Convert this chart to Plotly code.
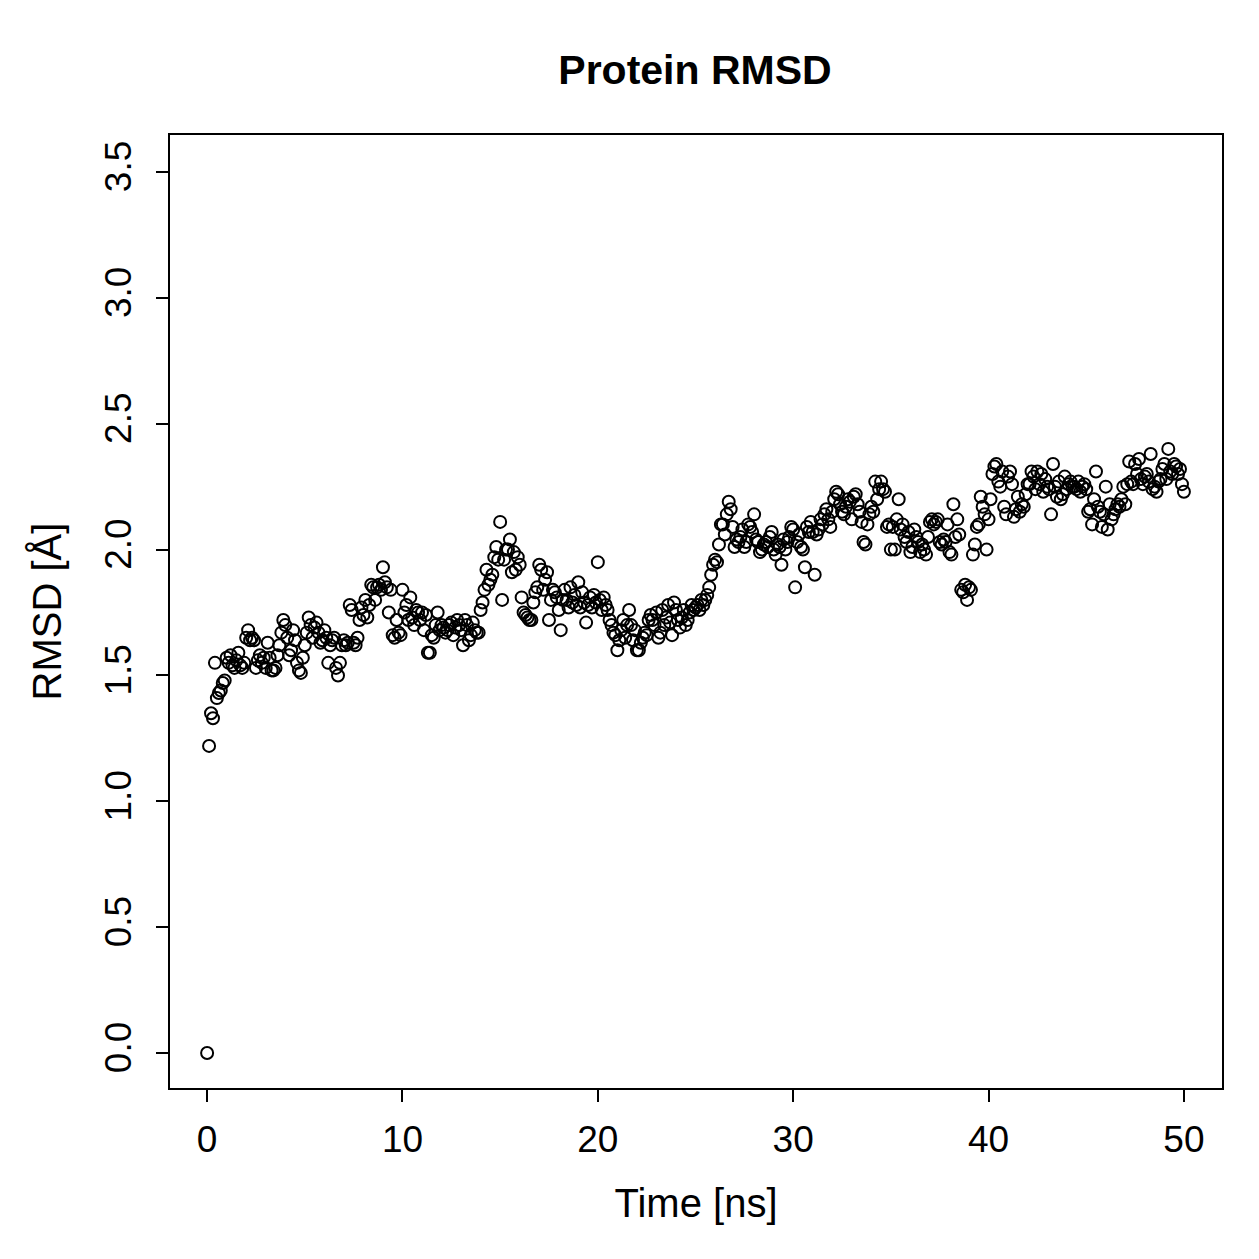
import numpy as np
import plotly.graph_objects as go

# sampling times [ns], 0.1 ns step
time_ns = [round(i * 0.1, 1) for i in range(501)]

rmsd = [
    0.00, 1.22, 1.35, 1.33, 1.55, 1.41, 1.43, 1.44, 1.47, 1.48,
    1.57, 1.55, 1.58, 1.54, 1.53, 1.56, 1.59, 1.54, 1.53, 1.55,
    1.65, 1.68, 1.64, 1.65, 1.64, 1.53, 1.56, 1.58, 1.55, 1.57,
    1.53, 1.63, 1.57, 1.52, 1.52, 1.53, 1.58, 1.62, 1.67, 1.72,
    1.70, 1.65, 1.58, 1.60, 1.68, 1.64, 1.55, 1.52, 1.51, 1.57,
    1.62, 1.67, 1.73, 1.70, 1.65, 1.69, 1.71, 1.67, 1.63, 1.64,
    1.68, 1.65, 1.55, 1.62, 1.64, 1.65, 1.53, 1.50, 1.55, 1.62,
    1.64, 1.62, 1.63, 1.78, 1.76, 1.63, 1.62, 1.65, 1.72, 1.77,
    1.74, 1.80, 1.73, 1.78, 1.86, 1.85, 1.80, 1.85, 1.86, 1.84,
    1.93, 1.87, 1.85, 1.75, 1.84, 1.66, 1.65, 1.72, 1.67, 1.66,
    1.84, 1.75, 1.78, 1.72, 1.81, 1.73, 1.70, 1.76, 1.75, 1.72,
    1.75, 1.68, 1.74, 1.59, 1.59, 1.66, 1.65, 1.70, 1.75, 1.68,
    1.70, 1.69, 1.67, 1.68, 1.70, 1.71, 1.66, 1.69, 1.72, 1.70,
    1.68, 1.62, 1.72, 1.70, 1.64, 1.66, 1.71, 1.68, 1.67, 1.67,
    1.76, 1.79, 1.84, 1.92, 1.86, 1.88, 1.90, 1.97, 2.01, 1.96,
    2.11, 1.80, 1.96, 2.00, 2.00, 2.04, 1.91, 1.99, 1.92, 1.97,
    1.94, 1.81, 1.75, 1.74, 1.73, 1.72, 1.72, 1.79, 1.83, 1.85,
    1.94, 1.92, 1.84, 1.88, 1.91, 1.72, 1.80, 1.84, 1.83, 1.81,
    1.76, 1.68, 1.80, 1.84, 1.80, 1.77, 1.85, 1.79, 1.82, 1.78,
    1.87, 1.77, 1.83, 1.79, 1.71, 1.78, 1.81, 1.77, 1.82, 1.79,
    1.95, 1.80, 1.76, 1.81, 1.78, 1.76, 1.72, 1.70, 1.67, 1.66,
    1.60, 1.64, 1.68, 1.72, 1.65, 1.70, 1.76, 1.70, 1.64, 1.68,
    1.60, 1.60, 1.63, 1.65, 1.67, 1.66, 1.72, 1.74, 1.72, 1.70,
    1.75, 1.65, 1.67, 1.76, 1.70, 1.73, 1.78, 1.71, 1.66, 1.79,
    1.76, 1.72, 1.69, 1.73, 1.76, 1.70, 1.72, 1.75, 1.78, 1.76,
    1.77, 1.78, 1.76, 1.80, 1.78, 1.80, 1.82, 1.85, 1.90, 1.94,
    1.96, 1.95, 2.02, 2.10, 2.10, 2.06, 2.14, 2.19, 2.16, 2.09,
    2.01, 2.04, 2.03, 2.05, 2.08, 2.01, 2.03, 2.10, 2.09, 2.07,
    2.14, 2.04, 2.03, 1.99, 2.00, 2.02, 2.03, 2.01, 2.05, 2.07,
    2.00, 1.98, 2.02, 2.01, 1.94, 2.04, 2.00, 2.03, 2.05, 2.09,
    2.08, 1.85, 2.03, 2.06, 2.01, 2.00, 1.93, 2.09, 2.07, 2.11,
    2.07, 1.90, 2.06, 2.08, 2.12, 2.10, 2.14, 2.16, 2.12, 2.09,
    2.15, 2.20, 2.23, 2.22, 2.18, 2.15, 2.14, 2.17, 2.20, 2.19,
    2.12, 2.21, 2.22, 2.18, 2.15, 2.11, 2.03, 2.02, 2.10, 2.14,
    2.17, 2.15, 2.27, 2.20, 2.24, 2.27, 2.24, 2.23, 2.09, 2.10,
    2.00, 2.09, 2.00, 2.12, 2.20, 2.08, 2.10, 2.05, 2.03, 2.07,
    1.99, 2.01, 2.08, 2.05, 2.03, 1.99, 2.02, 2.00, 1.98, 2.05,
    2.11, 2.12, 2.10, 2.11, 2.12, 2.03, 2.02, 2.04, 2.03, 2.10,
    1.99, 1.98, 2.18, 2.05, 2.12, 2.06, 1.84, 1.83, 1.86, 1.80,
    1.85, 1.84, 1.98, 2.02, 2.09, 2.10, 2.21, 2.17, 2.14, 2.00,
    2.12, 2.20, 2.30, 2.33, 2.34, 2.27, 2.25, 2.31, 2.17, 2.14,
    2.29, 2.31, 2.26, 2.13, 2.16, 2.21, 2.15, 2.18, 2.17, 2.22,
    2.26, 2.26, 2.31, 2.29, 2.24, 2.31, 2.26, 2.30, 2.23, 2.28,
    2.25, 2.24, 2.14, 2.34, 2.25, 2.21, 2.27, 2.20, 2.22, 2.29,
    2.24, 2.26, 2.27, 2.25, 2.25, 2.24, 2.27, 2.23, 2.25, 2.26,
    2.24, 2.15, 2.16, 2.10, 2.20, 2.31, 2.17, 2.15, 2.09, 2.14,
    2.25, 2.08, 2.18, 2.12, 2.14, 2.16, 2.18, 2.17, 2.20, 2.25,
    2.18, 2.26, 2.35, 2.27, 2.26, 2.34, 2.30, 2.36, 2.28, 2.26,
    2.29, 2.30, 2.27, 2.38, 2.24, 2.25, 2.23, 2.27, 2.28, 2.32,
    2.34, 2.28, 2.40, 2.31, 2.30, 2.34, 2.33, 2.30, 2.32, 2.26,
    2.23,
]

x_ticks = [0, 10, 20, 30, 40, 50]
y_ticks = [0.0, 0.5, 1.0, 1.5, 2.0, 2.5, 3.0, 3.5]
y_tick_labels = ["0.0", "0.5", "1.0", "1.5", "2.0", "2.5", "3.0", "3.5"]

FONT = "Liberation Sans, Arial, Helvetica, sans-serif"

fig = go.Figure()
fig.add_trace(go.Scatter(
    x=time_ns, y=rmsd, mode="markers",
    marker=dict(symbol="circle-open", size=12, color="black",
                line=dict(width=2, color="black")),
    showlegend=False,
))

fig.update_layout(
    width=1259, height=1259,
    margin=dict(l=170, r=37, t=135, b=171),
    paper_bgcolor="white", plot_bgcolor="white",
    font=dict(family=FONT, size=37, color="black"),
    title=dict(text="<b>Protein RMSD</b>", x=695 / 1259, xanchor="center",
               y=1 - 70 / 1259, yanchor="middle",
               font=dict(family=FONT, size=41, color="black")),
)
fig.update_xaxes(
    range=[-1.9, 51.95], tickvals=x_ticks, ticks="outside", ticklen=12,
    tickwidth=2, tickcolor="black", showline=True, linewidth=2,
    linecolor="black", mirror=True, showgrid=False, zeroline=False,
    ticklabelstandoff=6, tickfont=dict(family=FONT, size=37),
    title=dict(text="Time [ns]", font=dict(family=FONT, size=40), standoff=30),
)
fig.update_yaxes(
    range=[-0.139, 3.647], tickvals=y_ticks, ticktext=y_tick_labels,
    tickangle=-90, ticks="outside", ticklen=12,
    tickwidth=2, tickcolor="black", showline=True, linewidth=2,
    linecolor="black", mirror=True, showgrid=False, zeroline=False,
    ticklabelstandoff=10, tickfont=dict(family=FONT, size=37),
    title=dict(text="RMSD [Å]", font=dict(family=FONT, size=40), standoff=24),
)

fig.write_html("out.html")
